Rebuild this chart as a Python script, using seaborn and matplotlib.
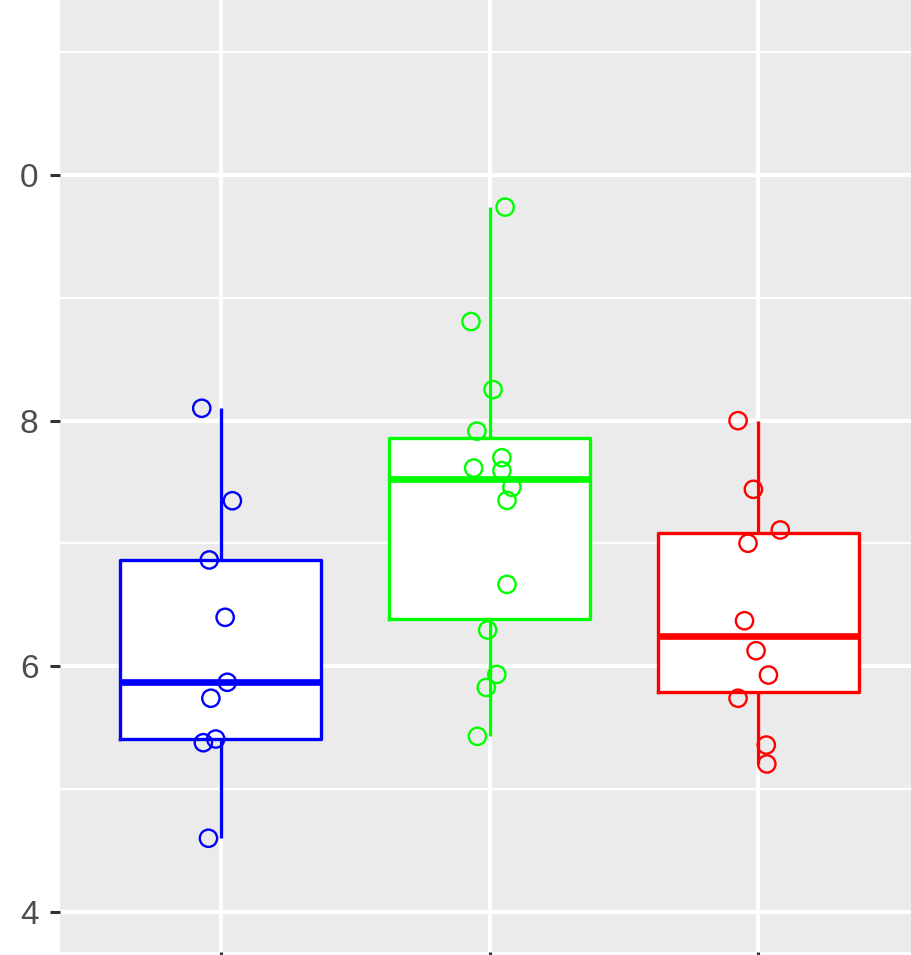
import numpy as np
import pandas as pd
import matplotlib
matplotlib.use("Agg")
import matplotlib.pyplot as plt
import seaborn as sns

# ---- data ----
groups = ["A", "B", "C"]
colors = ["#0000FF", "#00FF00", "#FF0000"]

blue_vals = [8.101, 7.348, 6.866, 6.399, 5.870, 5.740, 5.378, 5.408, 4.600]
blue_jit = [-0.070, 0.044, -0.042, 0.017, 0.025, -0.036, -0.064, -0.018, -0.045]

green_vals = [9.739, 8.807, 8.253, 7.915, 7.698, 7.614, 7.593, 7.457, 7.351,
              6.667, 6.296, 5.934, 5.828, 5.430]
green_jit = [0.058, -0.069, 0.013, -0.047, 0.046, -0.059, 0.046, 0.083, 0.065,
             0.065, -0.007, 0.027, -0.012, -0.045]

red_vals = [8.000, 7.441, 7.110, 7.002, 6.371, 6.127, 5.929, 5.740, 5.359, 5.205]
red_jit = [-0.076, -0.019, 0.081, -0.039, -0.052, -0.009, 0.037, -0.076, 0.029, 0.031]

y_ticks = [4, 6, 8, 10]
y_tick_labels = ["4", "6", "8", "0"]
y_minor = [5, 7, 9, 11]

# ---- build table ----
vals = [blue_vals, green_vals, red_vals]
jits = [blue_jit, green_jit, red_jit]
rows = []
for i, (g, v, j) in enumerate(zip(groups, vals, jits)):
    for vv, jj in zip(v, j):
        rows.append({"group": g, "value": vv, "xpos": i + jj})
df = pd.DataFrame(rows)
pal = dict(zip(groups, colors))

W, H = 911, 955
fig = plt.figure(figsize=(W / 100, H / 100), dpi=100)
ax = fig.add_axes([60 / W, 3 / H, 851 / W, 952 / H])
ax.set_facecolor("#EBEBEB")
for s in ax.spines.values():
    s.set_visible(False)

# white box fill underneath
sns.boxplot(data=df, x="group", y="value", order=groups, color="white",
            linecolor="white", linewidth=0, width=0.75, showcaps=False,
            showfliers=False, whis=1.5, ax=ax, zorder=2)
# coloured outlines
sns.boxplot(data=df, x="group", y="value", order=groups, hue="group",
            hue_order=groups, palette=pal, fill=False, width=0.75,
            showcaps=False, showfliers=False, whis=1.5, linewidth=2.4,
            medianprops=dict(linewidth=4.8), legend=False, ax=ax, zorder=3)

# jittered hollow points
sns.scatterplot(data=df, x="xpos", y="value", hue="group", hue_order=groups,
                palette=pal, s=155, marker="o", legend=False, ax=ax,
                zorder=4, linewidth=1.7)
for coll in ax.collections:
    fc = coll.get_facecolors()
    if len(fc) == len(df):
        coll.set_edgecolors(fc)
        coll.set_facecolors("none")

ax.set_xlim(-0.597, 2.567)
ax.set_ylim(3.674, 11.425)

ax.set_yticks(y_ticks)
ax.set_yticklabels(y_tick_labels)
ax.set_yticks(y_minor, minor=True)
ax.set_xticks([0, 1, 2])
ax.set_xticklabels(["", "", ""])

ax.grid(which="major", color="white", linewidth=3.0, zorder=0)
ax.grid(which="minor", axis="y", color="white", linewidth=1.6, zorder=0)
ax.set_axisbelow(True)

ax.tick_params(axis="both", which="major", length=7.5, width=2.2,
               color="#333333", labelcolor="#4D4D4D", labelsize=24, pad=8)
ax.tick_params(axis="y", which="minor", length=0)
for lab in ax.get_yticklabels():
    lab.set_fontfamily("Liberation Sans")

ax.set_xlabel("")
ax.set_ylabel("")

fig.savefig("out.png", dpi=100)
